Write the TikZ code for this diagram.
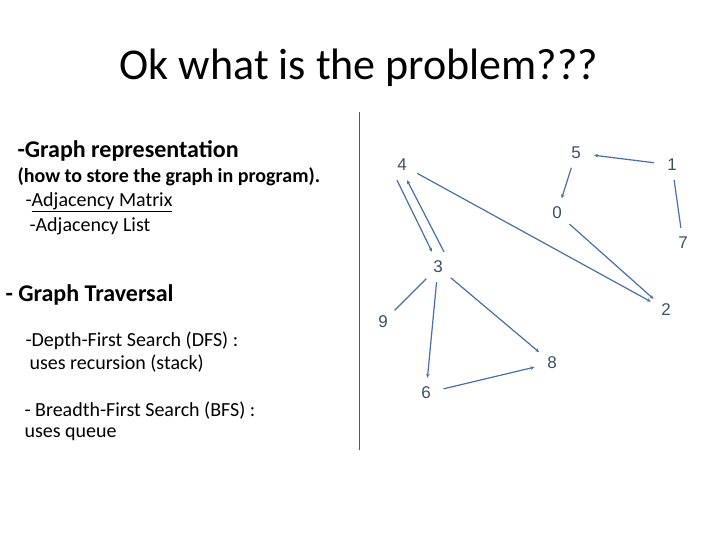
\documentclass[tikz,border=0pt]{standalone}
\usepackage{fontspec}
\setmainfont{Carlito}
\newfontfamily\arialf{Liberation Sans}
\usetikzlibrary{arrows.meta,shapes.geometric}
\definecolor{nb}{HTML}{3D4F66}
\definecolor{eb}{HTML}{4A6FA5}
\begin{document}
\begin{tikzpicture}[x=1pt,y=-1pt,
  gn/.style={ellipse,minimum width=36pt,minimum height=30pt,inner sep=0pt,text=nb,font=\fontsize{17}{19}\arialf},
  ed/.style={eb,line width=1.2pt},
  ar/.style={ed,-{Stealth[length=4pt,width=3.5pt]}},
  lt/.style={anchor=west,text=black}]
\useasboundingbox (0,0) rectangle (720,540);
\node (title) at (359,68) {\fontsize{44}{48}\selectfont Ok what is the problem???};
\draw[gray!70!black,line width=0.8pt] (359,112) coordinate (v1) -- (359,450) coordinate (v2);
\node[lt] (a) at (14,151) {\fontsize{24}{28}\selectfont\bfseries -Graph representation};
\node[lt] (b) at (14,177) {\fontsize{20}{24}\selectfont\bfseries (how to store the graph in program).};
\node[lt] (c) at (22,202) {\fontsize{20}{24}\selectfont -\underline{Adjacency Matrix}};
\node[lt] (d) at (26,226) {\fontsize{20}{24}\selectfont -Adjacency List};
\node[lt] (e) at (2,295) {\fontsize{24}{28}\selectfont\bfseries - Graph Traversal};
\node[lt] (f) at (22,341) {\fontsize{20}{24}\selectfont -Depth-First Search (DFS) :};
\node[lt] (g) at (26,364) {\fontsize{20}{24}\selectfont uses recursion (stack)};
\node[lt] (h) at (21,411) {\fontsize{20}{24}\selectfont - Breadth-First Search (BFS) :};
\node[lt] (i) at (21,434) {\fontsize{20}{24}\selectfont uses queue};
\node[gn] (n4) at (402,165) {4};
\node[gn] (n5) at (576,153) {5};
\node[gn] (n1) at (672,165) {1};
\node[gn] (n0) at (557,213) {0};
\node[gn] (n7) at (683,243) {7};
\node[gn] (n3) at (438,267) {3};
\node[gn] (n9) at (383,322) {9};
\node[gn] (n2) at (666,310) {2};
\node[gn] (n8) at (552,363) {8};
\node[gn] (n6) at (426,393) {6};
\draw[ar] ([xshift=-5pt]n4.south) -- ([xshift=-6pt]n3.north);
\draw[ar] ([xshift=6pt]n3.north) -- ([xshift=5pt]n4.south);
\draw[ar] (n4) -- (n2);
\draw[ar] (n1) -- (n5);
\draw[ar] (n5) -- (n0);
\draw[ed] (n1) -- (n7);
\draw[ar] (n0) -- (n2);
\draw[ed] (n3) -- (n9);
\draw[ar] (n3) -- (n6);
\draw[ar] (n3) -- (n8);
\draw[ar] (n6) -- (n8);
\end{tikzpicture}
\end{document}
